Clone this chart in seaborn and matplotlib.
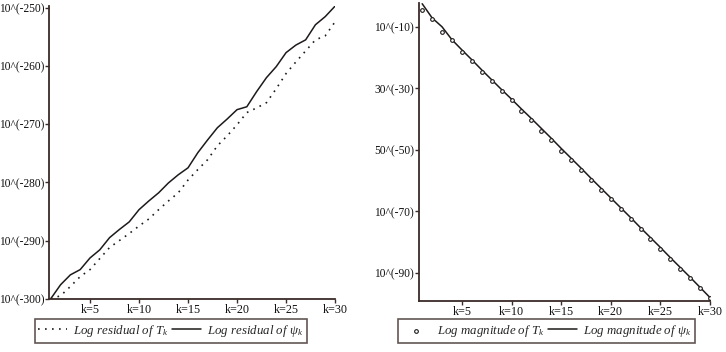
import seaborn as sns
import numpy as np
import matplotlib.pyplot as plt
import pandas as pd

# data
k = list(range(1, 31))

# left panel: log residuals (exponent of 10)
res_T = [-300.0, -299.5, -297.9, -296.2, -295.0, -293.1, -291.2, -290.0, -288.8, -287.5,
         -286.3, -284.7, -283.2, -281.8, -279.6, -277.8, -276.1, -273.7, -272.0, -270.1,
         -268.0, -267.2, -266.3, -263.9, -261.3, -259.3, -257.4, -255.5, -254.8, -252.4]
res_psi = [-300.0, -297.6, -295.9, -295.0, -293.0, -291.6, -289.5, -288.1, -286.8, -284.7,
           -283.2, -281.8, -280.1, -278.7, -277.5, -274.9, -272.7, -270.6, -269.1, -267.5,
           -267.0, -264.4, -262.0, -260.1, -257.7, -256.4, -255.5, -252.9, -251.5, -249.7]

# right panel: log magnitudes
mag_T = [-4.5, -7.4, -11.6, -14.2, -18.1, -21.1, -24.6, -27.5, -30.8, -33.7,
         -37.3, -40.2, -43.8, -46.7, -50.3, -53.2, -56.5, -59.8, -63.0, -65.9,
         -69.2, -72.4, -75.7, -79.0, -82.2, -85.4, -88.7, -91.6, -94.9, -98.1]
mag_psi = [-2.5, -7.1, -10.0, -14.2, -17.5, -20.7, -24.0, -27.2, -30.4, -33.5,
           -36.7, -39.8, -43.0, -46.2, -49.5, -52.7, -55.9, -59.2, -62.4, -65.6,
           -68.8, -72.0, -75.3, -78.5, -81.7, -85.0, -88.2, -91.4, -94.7, -98.0]

xticks = [5, 10, 15, 20, 25, 30]
xticklabels = ["k=5", "k=10", "k=15", "k=20", "k=25", "k=30"]
left_yticks = [-300, -290, -280, -270, -260, -250]
left_ylabels = ["10^(-300)", "10^(-290)", "10^(-280)", "10^(-270)", "10^(-260)", "10^(-250)"]
right_yticks = [-90, -70, -50, -30, -10]
right_ylabels = ["10^(-90)", "10^(-70)", "50^(-50)", "30^(-30)", "10^(-10)"]

df_left = pd.DataFrame({"k": k, "T": res_T, "psi": res_psi})
df_right = pd.DataFrame({"k": k, "T": mag_T, "psi": mag_psi})

sns.set_style("ticks")
plt.rcParams['font.family'] = ['Liberation Serif', 'DejaVu Serif']
plt.rcParams['mathtext.fontset'] = 'custom'
plt.rcParams['mathtext.rm'] = 'Liberation Serif'
plt.rcParams['mathtext.it'] = 'Liberation Serif:italic'

axcol = '#3a2c28'
linecol = '#1e1a1a'

fig = plt.figure(figsize=(7.26, 3.52), dpi=100)
ax1 = fig.add_axes([0.0675, 0.1506, 0.394, 0.832])
ax2 = fig.add_axes([0.577, 0.145, 0.401, 0.847])

# left
sns.lineplot(data=df_left, x="k", y="T", ax=ax1, color=linecol, lw=1.2,
             linestyle=(0, (1, 3.2)), label="Log residual of $T_k$")
sns.lineplot(data=df_left, x="k", y="psi", ax=ax1, color=linecol, lw=1.1,
             label="Log residual of $\\psi_k$")
ax1.set_xlim(0.82, 30)
ax1.set_ylim(-300.05, -249.7)

# right
sns.scatterplot(data=df_right, x="k", y="T", ax=ax2, marker="o", s=7,
                facecolor="white", edgecolor=linecol, linewidth=0.8,
                label="Log magnitude of $T_k$", zorder=3)
sns.lineplot(data=df_right, x="k", y="psi", ax=ax2, color=linecol, lw=1.1,
             label="Log magnitude of $\\psi_k$")
ax2.set_xlim(0.67, 30)
ax2.set_ylim(-99.1, -2.2)

for ax, yt, yl in [(ax1, left_yticks, left_ylabels), (ax2, right_yticks, right_ylabels)]:
    ax.set_xticks(xticks)
    ax.set_xticklabels(xticklabels)
    ax.set_yticks(yt)
    ax.set_yticklabels(yl)
    ax.set_xlabel("")
    ax.set_ylabel("")
    sns.despine(ax=ax)
    for s in ["left", "bottom"]:
        ax.spines[s].set_color(axcol)
        ax.spines[s].set_linewidth(1.3)
    ax.tick_params(colors=axcol, labelcolor='#111111', labelsize=8.3,
                   length=3, width=1.0, pad=0.5)
    ax.tick_params(axis='x', labelsize=8.7)
    ax.patch.set_alpha(0)
    h, l = ax.get_legend_handles_labels()
    ax.get_legend().remove()
    anchor = (0.2355, 0.0597) if ax is ax1 else (0.753, 0.0597)
    leg = fig.legend(h, l, loc='center', bbox_to_anchor=anchor, ncol=2,
                     frameon=True, fancybox=False,
                     prop={'style': 'italic', 'size': 9.3},
                     handlelength=2.2, handletextpad=0.5, columnspacing=0.3,
                     borderpad=0.3, borderaxespad=0)
    leg.get_frame().set_edgecolor(axcol)
    leg.get_frame().set_linewidth(1.2)

fig.savefig("out.png", dpi=100)
